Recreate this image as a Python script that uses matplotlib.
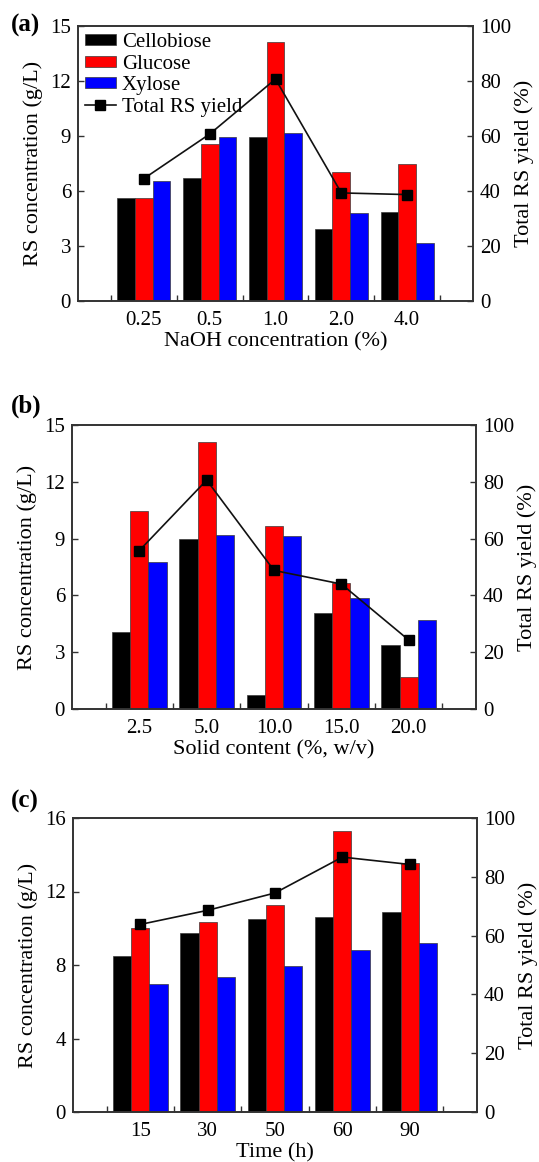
import matplotlib
matplotlib.use("Agg")
import matplotlib.pyplot as plt
import numpy as np
from matplotlib.ticker import FixedLocator

plt.rcParams['font.family'] = ['Liberation Serif', 'DejaVu Serif']

# ---------------- data ----------------
series_names = ["Cellobiose", "Glucose", "Xylose"]
line_name = "Total RS yield"

a_categories = ["0.25", "0.5", "1.0", "2.0", "4.0"]
a_cellobiose = [5.61, 6.70, 8.96, 3.91, 4.86]
a_glucose = [5.61, 8.56, 14.15, 7.05, 7.46]
a_xylose = [6.57, 8.94, 9.19, 4.82, 3.17]
a_yield = [44.5, 60.7, 80.7, 39.3, 38.7]

b_categories = ["2.5", "5.0", "10.0", "15.0", "20.0"]
b_cellobiose = [4.09, 8.96, 0.72, 5.07, 3.36]
b_glucose = [10.46, 14.10, 9.65, 6.67, 1.69]
b_xylose = [7.75, 9.18, 9.12, 5.85, 4.68]
b_yield = [55.8, 80.6, 48.8, 44.0, 24.3]

c_categories = ["15", "30", "50", "60", "90"]
c_cellobiose = [8.48, 9.72, 10.52, 10.59, 10.88]
c_glucose = [10.04, 10.35, 11.28, 15.29, 13.55]
c_xylose = [6.97, 7.37, 7.95, 8.79, 9.21]
c_yield = [63.8, 68.6, 74.5, 86.7, 84.2]

a_yticks = [0, 3, 6, 9, 12, 15]
b_yticks = [0, 3, 6, 9, 12, 15]
c_yticks = [0, 4, 8, 12, 16]
yield_ticks = [0, 20, 40, 60, 80, 100]

# --------------- style ----------------
colors = ["#000000", "#ff0000", "#0000ff"]
spine_color = "#333333"
W, H = 539, 1162
fig = plt.figure(figsize=(W / 100, H / 100), dpi=100)


def px_axes(l, t, r, b):
    return fig.add_axes([l / W, 1 - b / H, (r - l) / W, (b - t) / H])


def panel(rect, cats, cel, glu, xyl, yld, yticks, ylim, xlabel, legend=False):
    ax = px_axes(*rect)
    x = np.arange(1, len(cats) + 1)
    bw = 0.27
    bars = []
    for i, (vals, c) in enumerate(zip([cel, glu, xyl], colors)):
        bars.append(ax.bar(x + (i - 1) * bw, vals, width=bw, color=c,
                           edgecolor="#3a3a3a", linewidth=0.5,
                           label=series_names[i], zorder=2))
    ax.set_xlim(0, 6)
    ax.set_ylim(*ylim)
    ax.set_yticks(yticks)
    ax.set_xticks(x)
    ax.set_xticklabels(cats)
    ax.xaxis.set_minor_locator(FixedLocator(np.arange(0.5, 6.0, 1.0)))
    ax.tick_params(axis='x', which='major', length=0, pad=7, labelsize=15)
    ax.tick_params(axis='x', which='minor', direction='in', length=4,
                   width=1, color=spine_color)
    ax.tick_params(axis='y', direction='in', length=4, width=1,
                   color=spine_color, labelsize=15, pad=5)
    for s in ax.spines.values():
        s.set_color(spine_color)
        s.set_linewidth(1.2)
    ax.set_ylabel("RS concentration (g/L)", fontsize=16, labelpad=5)
    ax.set_xlabel(xlabel, fontsize=16, labelpad=2)

    ax2 = ax.twinx()
    ax2.set_ylim(0, 100)
    ax2.set_yticks(yield_ticks)
    ax2.tick_params(axis='y', direction='in', length=4, width=1,
                    color=spine_color, labelsize=15, pad=5)
    for s in ax2.spines.values():
        s.set_color(spine_color)
        s.set_linewidth(1.2)
    ln, = ax2.plot(x, yld, color="#111111", linewidth=1.2, marker='s',
                   markersize=6.5, markerfacecolor='black',
                   markeredgecolor='black', label=line_name, zorder=3)
    ax2.set_ylabel("Total RS yield (%)", fontsize=16, labelpad=2)

    if legend:
        handles = bars + [ln]
        labels = series_names + [line_name]
        ax2.legend(handles, labels, loc='upper left', bbox_to_anchor=(0.0, 1.0),
                   frameon=False, fontsize=15, handlelength=1.45,
                   handleheight=0.45, handletextpad=0.3, labelspacing=0.12,
                   borderaxespad=0.2, borderpad=0.15)
    return ax, ax2


panel((78, 26, 473, 301), a_categories, a_cellobiose, a_glucose, a_xylose,
      a_yield, a_yticks, (0, 15), "NaOH concentration (%)", legend=True)
panel((72, 425, 476, 709), b_categories, b_cellobiose, b_glucose, b_xylose,
      b_yield, b_yticks, (0, 15), "Solid content (%, w/v)")
panel((73, 818, 477, 1112), c_categories, c_cellobiose, c_glucose, c_xylose,
      c_yield, c_yticks, (0, 16), "Time (h)")

for tag, ypx in [("(a)", 25), ("(b)", 406), ("(c)", 801)]:
    fig.text(11 / W, 1 - ypx / H, tag, fontsize=18, fontweight='bold',
             ha='left', va='center')

fig.savefig("out.png", dpi=100)
